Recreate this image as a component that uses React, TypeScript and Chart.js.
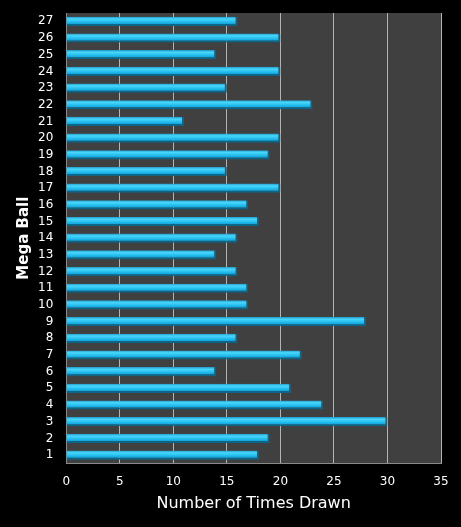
import React, { useRef, useEffect } from "react";
import Chart from "chart.js/auto";

const balls: string[] = [
  "1", "2", "3", "4", "5", "6", "7", "8", "9", "10", "11", "12", "13", "14",
  "15", "16", "17", "18", "19", "20", "21", "22", "23", "24", "25", "26", "27",
];
const timesDrawn: number[] = [
  18, 19, 30, 24, 21, 14, 22, 16, 28, 17, 17, 16, 14, 16,
  18, 17, 20, 15, 19, 20, 11, 23, 15, 20, 14, 20, 16,
];
const xTicks: number[] = [0, 5, 10, 15, 20, 25, 30, 35];

const plotBackground = {
  id: "plotBackground",
  beforeDraw(chart: Chart) {
    const { ctx, chartArea } = chart;
    if (!chartArea) return;
    ctx.save();
    ctx.fillStyle = "#404040";
    ctx.fillRect(
      chartArea.left,
      chartArea.top,
      chartArea.right - chartArea.left,
      chartArea.bottom - chartArea.top
    );
    ctx.restore();
  },
};

const font = "'DejaVu Sans', Verdana, sans-serif";
const BAR_PCT = 0.55;

// tube-like shading, one vertical gradient per bar
const barFill = (context: any) => {
  const chart = context.chart;
  const yScale = chart.scales?.y;
  if (!chart.chartArea || !yScale || context.dataIndex === undefined) {
    return "#1cb8ea";
  }
  const center = yScale.getPixelForValue(context.dataIndex);
  const half = (yScale.height / balls.length) * BAR_PCT * 0.5;
  const g = chart.ctx.createLinearGradient(0, center - half, 0, center + half);
  g.addColorStop(0, "#1f9ccb");
  g.addColorStop(0.25, "#4ad6fb");
  g.addColorStop(0.6, "#1db9ec");
  g.addColorStop(1, "#0f84b2");
  return g;
};

const MegaBallChart: React.FC = () => {
  const canvasRef = useRef<HTMLCanvasElement>(null);

  useEffect(() => {
    if (!canvasRef.current) return;
    const ctx = canvasRef.current.getContext("2d");
    if (!ctx) return;

    const chart = new Chart(ctx, {
      type: "bar",
      data: {
        labels: balls,
        datasets: [
          {
            label: "Mega Ball",
            data: timesDrawn,
            backgroundColor: barFill,
            borderColor: "#0c6689",
            borderWidth: { top: 0, left: 0, right: 2, bottom: 2 },
            borderSkipped: false,
            categoryPercentage: 1,
            barPercentage: BAR_PCT,
          },
        ],
      },
      options: {
        indexAxis: "y",
        animation: false,
        responsive: false,
        maintainAspectRatio: false,
        layout: { padding: { top: 13, right: 20, left: 15, bottom: 14 } },
        plugins: {
          legend: { display: false },
          tooltip: { enabled: false },
        },
        scales: {
          x: {
            min: 0,
            max: 35,
            afterBuildTicks: (axis) => {
              axis.ticks = xTicks.map((v) => ({ value: v }));
            },
            grid: {
              color: "#b4b4b4",
              lineWidth: 1,
              drawTicks: false,
            },
            border: { display: true, color: "#8a8a8a", width: 1 },
            ticks: {
              color: "#ffffff",
              padding: 11,
              font: { family: font, size: 12 },
            },
            title: {
              display: true,
              text: "Number of Times Drawn",
              color: "#ffffff",
              padding: { top: -6, bottom: 0 },
              font: { family: font, size: 16 },
            },
          },
          y: {
            reverse: true,
            afterFit: (scale) => {
              scale.paddingTop = 0;
              scale.paddingBottom = 0;
            },
            grid: { display: false, drawTicks: false },
            border: { display: true, color: "#8a8a8a", width: 1 },
            ticks: {
              color: "#ffffff",
              padding: 13,
              autoSkip: false,
              font: { family: font, size: 12 },
            },
            title: {
              display: true,
              text: "Mega Ball",
              color: "#ffffff",
              padding: { top: 0, bottom: -8 },
              font: { family: font, size: 15, weight: "bold" },
            },
          },
        },
      },
      plugins: [plotBackground],
    });

    return () => {
      chart.destroy();
    };
  }, []);

  return <canvas ref={canvasRef} width={461} height={527}></canvas>;
};

export default function App() {
  return (
    <div
      style={{
        position: "absolute",
        left: 0,
        top: 0,
        width: 461,
        height: 527,
        background: "#000000",
      }}
    >
      <MegaBallChart />
    </div>
  );
}
